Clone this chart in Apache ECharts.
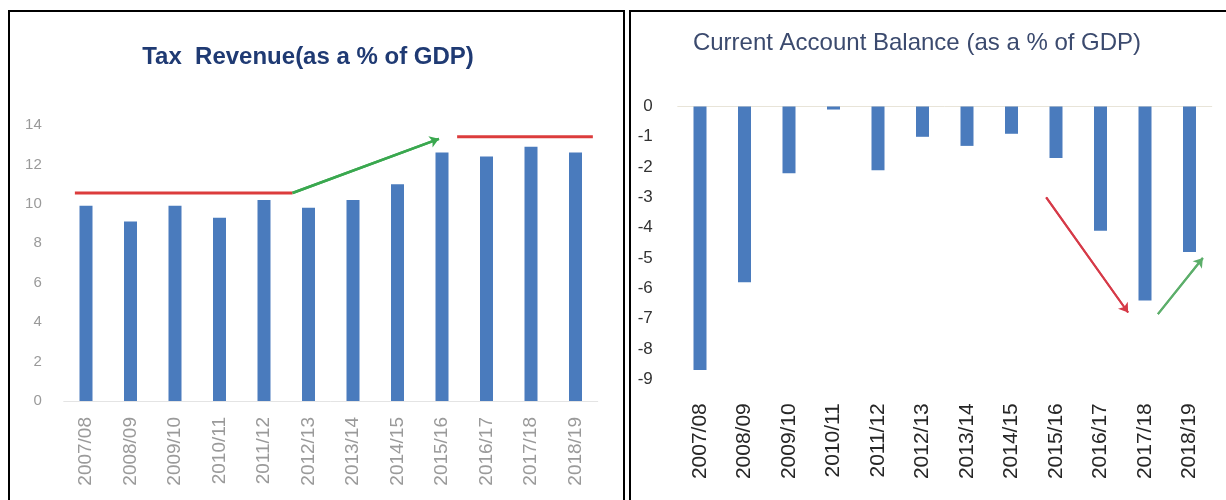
<!DOCTYPE html>
<html>
<head>
<meta charset="utf-8">
<script src="https://cdn.jsdelivr.net/npm/echarts@6/dist/echarts.min.js"></script>
<style>
  html, body { margin: 0; padding: 0; background: #ffffff; }
  #chart { width: 1226px; height: 500px; }
</style>
</head>
<body>
<div id="chart"></div>
<script>
// Fiscal years shared by both panels
const categories = ['2007/08', '2008/09', '2009/10', '2010/11', '2011/12', '2012/13',
                    '2013/14', '2014/15', '2015/16', '2016/17', '2017/18', '2018/19'];

// Tax revenue, % of GDP
const taxRevenue = [9.9, 9.1, 9.9, 9.3, 10.2, 9.8, 10.2, 11.0, 12.6, 12.4, 12.9, 12.6];

// Current account balance, % of GDP
const currentAccount = [-8.7, -5.8, -2.2, -0.1, -2.1, -1.0, -1.3, -0.9, -1.7, -4.1, -6.4, -4.8];

// Trend annotations, as [category position, value] pairs
const taxLevelBefore = [[-0.25, 10.55], [4.64, 10.55]];
const taxRise = [[4.64, 10.55], [7.93, 13.3]];
const taxLevelAfter = [[8.34, 13.4], [11.39, 13.4]];
const cabFall = [[7.78, -3.0], [9.62, -6.8]];
const cabRecovery = [[10.29, -6.85], [11.30, -5.0]];

const FONT = 'Liberation Sans, Arial, sans-serif';
const BAR_BLUE = '#4a7bbd';

function trend(points, xAxisIndex, yAxisIndex, color, width, arrow) {
  const s = {
    type: 'line',
    xAxisIndex: xAxisIndex,
    yAxisIndex: yAxisIndex,
    data: points,
    showSymbol: false,
    symbol: 'none',
    silent: true,
    animation: false,
    lineStyle: { color: color, width: width, type: 'solid' },
    z: 5
  };
  if (arrow) {
    s.markLine = {
      silent: true,
      animation: false,
      symbol: ['none', 'arrow'],
      symbolSize: 9,
      label: { show: false },
      lineStyle: { color: color, width: width, type: 'solid' },
      data: [[{ coord: points[0] }, { coord: points[1] }]]
    };
  }
  return s;
}

const chart = echarts.init(document.getElementById('chart'), null, { renderer: 'canvas' });

chart.setOption({
  animation: false,
  backgroundColor: '#ffffff',
  textStyle: { fontFamily: FONT },
  title: [
    {
      text: 'Tax  Revenue(as a % of GDP)',
      left: 303, top: 52,
      textAlign: 'center', textVerticalAlign: 'middle',
      textStyle: { fontFamily: FONT, fontSize: 24, fontWeight: 'bold', color: '#1f3a73' }
    },
    {
      text: 'Current Account Balance (as a % of GDP)',
      left: 912, top: 38,
      textAlign: 'center', textVerticalAlign: 'middle',
      textStyle: { fontFamily: FONT, fontSize: 24, fontWeight: 'normal', color: '#3b4a6e' }
    }
  ],
  graphic: [
    { type: 'rect', shape: { x: 9, y: 11, width: 615, height: 520 },
      style: { fill: 'none', stroke: '#000000', lineWidth: 2 }, silent: true },
    { type: 'rect', shape: { x: 630, y: 11, width: 620, height: 520 },
      style: { fill: 'none', stroke: '#000000', lineWidth: 2 }, silent: true }
  ],
  grid: [
    { left: 63.75, width: 534, top: 125, height: 276 },
    { left: 677.75, width: 534, top: 106.5, height: 272.7 }
  ],
  xAxis: [
    {
      type: 'category', gridIndex: 0, data: categories,
      axisLine: { lineStyle: { color: '#e4e4e4', width: 1 } },
      axisTick: { show: false },
      axisLabel: { rotate: 90, margin: 16, fontSize: 19, color: '#9a9a9a', fontFamily: FONT }
    },
    { type: 'value', gridIndex: 0, min: -0.5, max: 11.5, show: false },
    {
      type: 'category', gridIndex: 1, data: categories, position: 'bottom',
      axisLine: { show: false, onZero: false },
      axisTick: { show: false },
      axisLabel: { rotate: 90, margin: 24, fontSize: 21, color: '#262626', fontFamily: FONT }
    },
    {
      type: 'category', gridIndex: 1, data: categories, position: 'top',
      axisLine: { show: true, onZero: false, lineStyle: { color: '#e8e4d8', width: 1 } },
      axisTick: { show: false },
      axisLabel: { show: false }
    },
    { type: 'value', gridIndex: 1, min: -0.5, max: 11.5, show: false }
  ],
  yAxis: [
    {
      type: 'value', gridIndex: 0, min: 0, max: 14, interval: 2,
      axisLine: { show: false }, axisTick: { show: false }, splitLine: { show: false },
      axisLabel: { margin: 22, fontSize: 15, color: '#9a9a9a', fontFamily: FONT }
    },
    {
      type: 'value', gridIndex: 1, min: -9, max: 0, interval: 1,
      axisLine: { show: false }, axisTick: { show: false }, splitLine: { show: false },
      axisLabel: { margin: 25, fontSize: 17, color: '#333333', fontFamily: FONT }
    }
  ],
  series: [
    {
      type: 'bar', xAxisIndex: 0, yAxisIndex: 0, data: taxRevenue,
      barWidth: 13, itemStyle: { color: BAR_BLUE }, silent: true
    },
    {
      type: 'bar', xAxisIndex: 2, yAxisIndex: 1, data: currentAccount,
      barWidth: 13, itemStyle: { color: BAR_BLUE }, silent: true
    },
    trend(taxLevelBefore, 1, 0, '#dc3c3c', 3, false),
    trend(taxRise, 1, 0, '#3aa84f', 2.5, true),
    trend(taxLevelAfter, 1, 0, '#dc3c3c', 3, false),
    trend(cabFall, 4, 1, '#d63a48', 2, true),
    trend(cabRecovery, 4, 1, '#5cae6a', 2, true)
  ]
});
</script>
</body>
</html>
